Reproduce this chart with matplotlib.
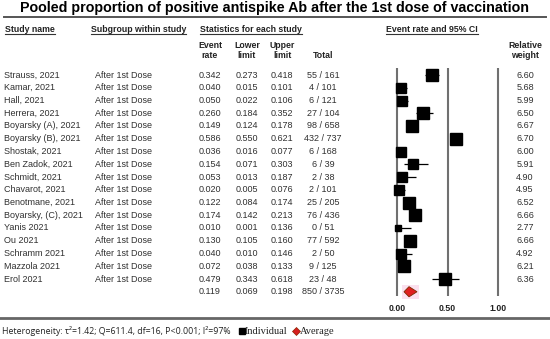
import matplotlib
matplotlib.use("Agg")
import matplotlib.pyplot as plt
import numpy as np

# Data
studies = ["Strauss, 2021", "Kamar, 2021", "Hall, 2021", "Herrera, 2021", "Boyarsky (A), 2021",
           "Boyarsky (B), 2021", "Shostak, 2021", "Ben Zadok, 2021", "Schmidt, 2021", "Chavarot, 2021",
           "Benotmane, 2021", "Boyarsky, (C), 2021", "Yanis 2021", "Ou 2021", "Schramm 2021",
           "Mazzola 2021", "Erol 2021"]
subgroups = ["After 1st Dose"] * len(studies)
event_rate = [0.342, 0.040, 0.050, 0.260, 0.149, 0.586, 0.036, 0.154, 0.053, 0.020,
              0.122, 0.174, 0.010, 0.130, 0.040, 0.072, 0.479]
lower = [0.273, 0.015, 0.022, 0.184, 0.124, 0.550, 0.016, 0.071, 0.013, 0.005,
         0.084, 0.142, 0.001, 0.105, 0.010, 0.038, 0.343]
upper = [0.418, 0.101, 0.106, 0.352, 0.178, 0.621, 0.077, 0.303, 0.187, 0.076,
         0.174, 0.213, 0.136, 0.160, 0.146, 0.133, 0.618]
totals = ["55 / 161", "4 / 101", "6 / 121", "27 / 104", "98 / 658", "432 / 737", "6 / 168",
          "6 / 39", "2 / 38", "2 / 101", "25 / 205", "76 / 436", "0 / 51", "77 / 592",
          "2 / 50", "9 / 125", "23 / 48"]
weights = [6.60, 5.68, 5.99, 6.50, 6.67, 6.70, 6.00, 5.91, 4.90, 4.95,
           6.52, 6.66, 2.77, 6.66, 4.92, 6.21, 6.36]
pooled_rate, pooled_lower, pooled_upper, pooled_total = 0.119, 0.069, 0.198, "850 / 3735"
xticks = [0.0, 0.5, 1.0]

W, H = 550, 339
fig = plt.figure(figsize=(W / 100, H / 100), dpi=100)
fig.patch.set_facecolor("white")

# base axes in pixel coordinates for the table text
base = fig.add_axes([0, 0, 1, 1])
base.set_xlim(0, W)
base.set_ylim(H, 0)
base.axis("off")

row0, step = 75, 12.75
txt_col = "#303030"
fs = 6.5
hfs = 6.3
font = "Liberation Sans"

base.text(W / 2, 8, "Pooled proportion of positive antispike Ab after the 1st dose of vaccination",
          ha="center", va="center", fontsize=10.3, fontweight="bold", family=font)
base.plot([4, 546], [17, 17], color="#555555", lw=1.4)

# headers (underlined)
heads = [("Study name", 5, "left"), ("Subgroup within study", 91, "left"),
         ("Statistics for each study", 200, "left"), ("Event rate and 95% CI", 386, "left")]
head_texts = []
for label, x, ha in heads:
    t = base.text(x, 29, label, ha=ha, va="center", fontsize=hfs, fontweight="bold",
                  family=font, color="#222222")
    head_texts.append(t)
fig.canvas.draw()
r = fig.canvas.get_renderer()
for t in head_texts:
    bb = t.get_window_extent(r)
    base.plot([bb.x0, bb.x1], [34, 34], color="#333333", lw=0.8)

col_x = {"rate": 210, "low": 247, "up": 282, "tot": 323, "wt": 525}
for key, l1, l2 in [("rate", "Event", "rate"), ("low", "Lower", "limit"), ("up", "Upper", "limit"),
                    ("wt", "Relative", "weight")]:
    base.text(col_x[key], 46, l1, ha="center", va="center", fontsize=hfs, fontweight="bold",
              family=font, color="#222222")
    base.text(col_x[key], 56, l2, ha="center", va="center", fontsize=hfs, fontweight="bold",
              family=font, color="#222222")
base.text(col_x["tot"], 56, "Total", ha="center", va="center", fontsize=hfs, fontweight="bold",
          family=font, color="#222222")


def cell(x, y, s):
    base.text(x, y, s, ha="center", va="center", fontsize=fs, color=txt_col, family=font)


for i in range(len(studies)):
    y = row0 + step * i
    base.text(4, y, studies[i], ha="left", va="center", fontsize=fs, color=txt_col, family=font)
    base.text(95, y, subgroups[i], ha="left", va="center", fontsize=fs, color=txt_col, family=font)
    cell(col_x["rate"], y, f"{event_rate[i]:.3f}")
    cell(col_x["low"], y, f"{lower[i]:.3f}")
    cell(col_x["up"], y, f"{upper[i]:.3f}")
    cell(col_x["tot"], y, totals[i])
    cell(col_x["wt"], y, f"{weights[i]:.2f}")

yp = row0 + step * len(studies)
cell(col_x["rate"], yp, f"{pooled_rate:.3f}")
cell(col_x["low"], yp, f"{pooled_lower:.3f}")
cell(col_x["up"], yp, f"{pooled_upper:.3f}")
cell(col_x["tot"], yp, pooled_total)

# footer
base.plot([0, W], [318, 318], color="#666666", lw=2)
base.text(2, 331, "Heterogeneity: τ²=1.42; Q=611.4, df=16, P<0.001; I²=97%", ha="left", va="center",
          fontsize=6.3, color="#222222", family="Open Sans")
base.plot([241.5], [331], marker="s", ms=5, color="black", ls="none")
base.text(245, 331.5, "Individual", ha="left", va="center", fontsize=7.5, family="Liberation Serif", color="#222222")
base.plot([296], [331], marker="D", ms=4, color="#d61f1f", mec="#8b2500", mew=0.5, ls="none")
base.text(300, 331.5, "Average", ha="left", va="center", fontsize=7.5, family="Liberation Serif", color="#222222")

# forest plot axes: x=0 at px 397, x=1 at px 498
ax_l, ax_r, ax_t, ax_b = 380, 512, 60, 300
ppu = 101.0
ax = fig.add_axes([ax_l / W, 1 - ax_b / H, (ax_r - ax_l) / W, (ax_b - ax_t) / H])
ax.set_xlim((ax_l - 397) / ppu, (ax_r - 397) / ppu)
ax.set_ylim((ax_b - row0) / step, (ax_t - row0) / step)
ax.patch.set_alpha(0)
for s in ax.spines.values():
    s.set_visible(False)
ax.set_yticks([])
ax.set_xticks(xticks)
ax.set_xticklabels([f"{v:.2f}" for v in xticks], fontsize=hfs, fontweight="bold", color="#222222",
                   family=font)
ax.tick_params(axis="x", length=0, pad=3)

ax.vlines(xticks, (68 - row0) / step, (296 - row0) / step, color="#707070", lw=1.5)

rows = np.arange(len(studies))
ax.hlines(rows, lower, upper, color="black", lw=0.9)
for i in rows:
    side_px = 2 + 1.45 * weights[i]
    ax.plot(event_rate[i], i, marker="s", ms=side_px * 0.72, color="black", ls="none")

# pooled diamond
py = len(studies)
ax.fill_between([pooled_lower - 0.02, pooled_upper + 0.02], py - 0.55, py + 0.55, color="#fbe0ee", lw=0)
ax.fill([pooled_lower, pooled_rate, pooled_upper, pooled_rate],
        [py, py - 0.4, py, py + 0.4], color="#e01f1f", ec="#7a2a00", lw=0.6)

fig.savefig("out.png", dpi=100)
